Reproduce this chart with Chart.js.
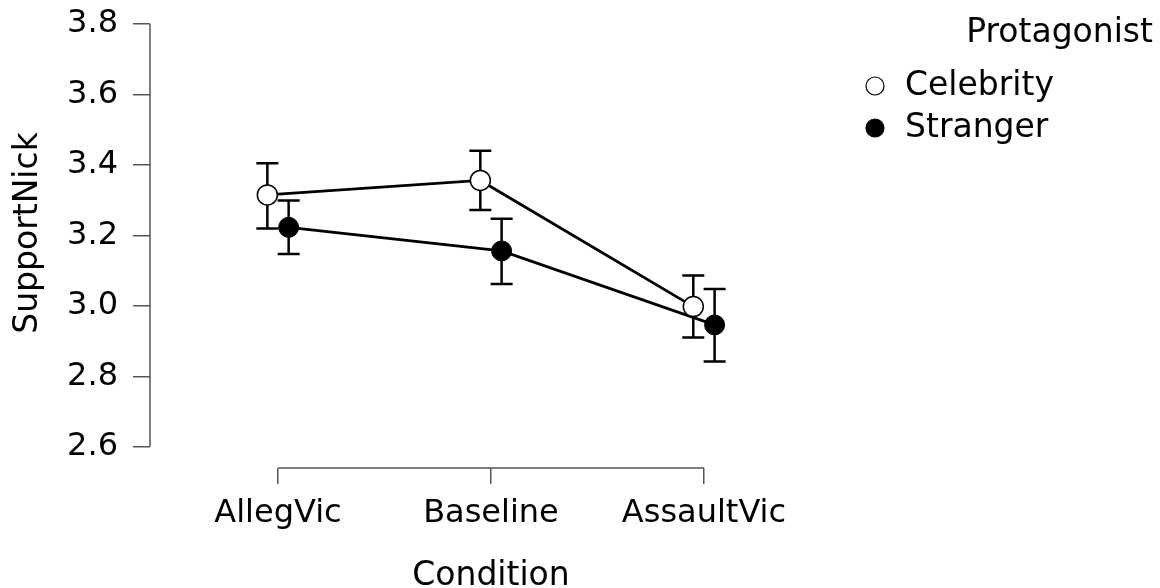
<!DOCTYPE html>
<html>
<head>
<meta charset="utf-8">
<script src="https://cdn.jsdelivr.net/npm/chart.js@4"></script>
<style>
html, body { margin: 0; padding: 0; background: #fff; }
</style>
</head>
<body>
<canvas id="plot" width="1160" height="588"></canvas>
<script>
// data
var conditions = ['AllegVic', 'Baseline', 'AssaultVic'];
var groups = ['Celebrity', 'Stranger'];
var celebMean = [3.315, 3.356, 2.998];
var celebLow = [3.220, 3.272, 2.910];
var celebHigh = [3.405, 3.440, 3.086];
var strangerMean = [3.223, 3.156, 2.946];
var strangerLow = [3.147, 3.062, 2.842];
var strangerHigh = [3.299, 3.247, 3.048];
var yTicks = [2.6, 2.8, 3.0, 3.2, 3.4, 3.6, 3.8];

var FONT = 'DejaVu Sans';
var dodge = 0.05;   // horizontal shift so the two groups don't overlap

function points(means, lows, highs, shift) {
  return means.map(function (m, i) {
    return { x: i + 1 + shift, y: m, lo: lows[i], hi: highs[i] };
  });
}

var errorBars = {
  id: 'errorBars',
  beforeDatasetsDraw: function (chart) {
    var ctx = chart.ctx, xs = chart.scales.x, ys = chart.scales.y;
    ctx.save();
    ctx.strokeStyle = '#000';
    ctx.lineWidth = 2.5;
    chart.data.datasets.forEach(function (ds) {
      ds.data.forEach(function (p) {
        var x = xs.getPixelForValue(p.x);
        var y1 = ys.getPixelForValue(p.hi), y2 = ys.getPixelForValue(p.lo);
        ctx.beginPath();
        ctx.moveTo(x, y1); ctx.lineTo(x, y2);
        ctx.moveTo(x - 11, y1); ctx.lineTo(x + 11, y1);
        ctx.moveTo(x - 11, y2); ctx.lineTo(x + 11, y2);
        ctx.stroke();
      });
    });
    ctx.restore();
  }
};

// JASP style axis lines that only span the tick range, plus titles and legend
var frame = {
  id: 'frame',
  afterDraw: function (chart) {
    var ctx = chart.ctx, xs = chart.scales.x, ys = chart.scales.y;
    var area = chart.chartArea;
    ctx.save();
    ctx.strokeStyle = '#555';
    ctx.lineWidth = 1.5;
    ctx.beginPath();
    ctx.moveTo(area.left, ys.getPixelForValue(yTicks[yTicks.length - 1]));
    ctx.lineTo(area.left, ys.getPixelForValue(yTicks[0]));
    ctx.moveTo(xs.getPixelForValue(1), area.bottom);
    ctx.lineTo(xs.getPixelForValue(conditions.length), area.bottom);
    ctx.stroke();

    ctx.fillStyle = '#000';
    ctx.font = '33px "' + FONT + '"';
    ctx.textBaseline = 'middle';
    ctx.textAlign = 'center';
    ctx.save();
    ctx.translate(28, 233);
    ctx.rotate(-Math.PI / 2);
    ctx.fillText('SupportNick', 0, 0);
    ctx.restore();

    ctx.textAlign = 'center';
    ctx.textBaseline = 'alphabetic';
    ctx.fillText('Condition', (xs.getPixelForValue(1) + xs.getPixelForValue(3)) / 2, 585);

    // legend
    ctx.textAlign = 'right';
    ctx.fillText('Protagonist', 1153, 42);
    ctx.textAlign = 'left';
    ctx.textBaseline = 'middle';
    chart.data.datasets.forEach(function (ds, i) {
      var cy = 86 + i * 42;
      ctx.beginPath();
      ctx.arc(875, cy, 9, 0, Math.PI * 2);
      ctx.fillStyle = ds.pointBackgroundColor;
      ctx.fill();
      ctx.lineWidth = 1.2;
      ctx.strokeStyle = '#000';
      ctx.stroke();
      ctx.fillStyle = '#000';
      ctx.fillText(ds.label, 905, cy);
    });
    ctx.restore();
  }
};

var myChart = new Chart(document.getElementById('plot'), {
  type: 'line',
  data: {
    datasets: [
      {
        label: groups[0],
        data: points(celebMean, celebLow, celebHigh, -dodge),
        borderColor: '#000',
        borderWidth: 2.8,
        pointRadius: 10,
        pointBorderWidth: 1.5,
        pointBackgroundColor: '#fff',
        pointBorderColor: '#000',
        tension: 0,
        order: 1
      },
      {
        label: groups[1],
        data: points(strangerMean, strangerLow, strangerHigh, dodge),
        borderColor: '#000',
        borderWidth: 2.8,
        pointRadius: 10,
        pointBorderWidth: 1,
        pointBackgroundColor: '#000',
        pointBorderColor: '#000',
        tension: 0,
        order: 2
      }
    ]
  },
  options: {
    responsive: false,
    animation: false,
    layout: { padding: { left: 0, top: 24, right: 360, bottom: 0 } },
    plugins: { legend: { display: false }, tooltip: { enabled: false } },
    scales: {
      x: {
        type: 'linear',
        min: 0.399,
        max: 3.451,
        afterFit: function (s) { s.height = 120; s.paddingLeft = 0; s.paddingRight = 0; },
        afterBuildTicks: function (s) {
          s.ticks = conditions.map(function (c, i) { return { value: i + 1 }; });
        },
        ticks: {
          color: '#000',
          font: { family: FONT, size: 32 },
          padding: 10,
          maxRotation: 0,
          autoSkip: false,
          callback: function (v) { return conditions[v - 1]; }
        },
        grid: { drawOnChartArea: false, tickLength: 16, color: '#555', lineWidth: 1.5 },
        border: { display: false }
      },
      y: {
        min: 2.54,
        max: 3.8,
        afterFit: function (s) { s.width = 150; s.paddingTop = 0; s.paddingBottom = 0; },
        afterBuildTicks: function (s) {
          s.ticks = yTicks.map(function (v) { return { value: v }; });
        },
        ticks: {
          color: '#000',
          font: { family: FONT, size: 32 },
          padding: 15,
          callback: function (v) { return v.toFixed(1); }
        },
        grid: { drawOnChartArea: false, tickLength: 17, color: '#555', lineWidth: 1.5 },
        border: { display: false }
      }
    }
  },
  plugins: [errorBars, frame]
});
</script>
</body>
</html>
